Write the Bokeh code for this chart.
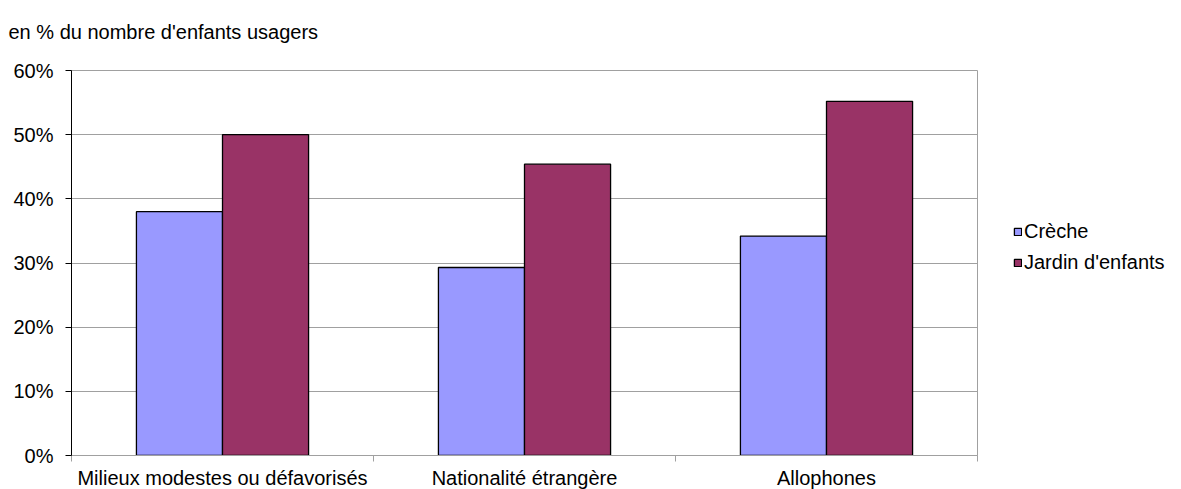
from bokeh.plotting import figure
from bokeh.models import (ColumnDataSource, FixedTicker, NumeralTickFormatter,
                          Legend, LegendItem, Range1d)
from bokeh.transform import dodge
from bokeh.embed import file_html
from bokeh.resources import INLINE

categories = ["Milieux modestes ou défavorisés", "Nationalité étrangère", "Allophones"]
series_names = ["Crèche", "Jardin d'enfants"]
creche = [0.380, 0.293, 0.342]
jardin = [0.500, 0.454, 0.552]
y_ticks = [0.0, 0.1, 0.2, 0.3, 0.4, 0.5, 0.6]
title_text = "en % du nombre d'enfants usagers"

FONT = "Liberation Sans"
FS = "20px"
pos = [i + 0.5 for i in range(len(categories))]
bounds = list(range(len(categories) + 1))
src = ColumnDataSource(dict(x=pos, creche=creche, jardin=jardin))

p = figure(frame_width=906, frame_height=385,
           x_range=Range1d(0, len(categories)), y_range=Range1d(y_ticks[0], y_ticks[-1]),
           output_backend="svg", toolbar_location=None,
           min_border_left=71, min_border_right=10, min_border_top=70, min_border_bottom=34,
           background_fill_color="white", border_fill_color="white")

# two-line title box (second line empty) lifts the text without growing the top border
p.title.text = title_text + "\n "
p.title.align = "left"
p.title.offset = -63
p.title.standoff = 11
p.title.text_font = FONT
p.title.text_font_size = FS
p.title.text_font_style = "normal"
p.title.text_color = "black"

p.outline_line_color = "#A0A0A0"
p.outline_line_width = 1

bw = 0.285
r1 = p.vbar(x=dodge("x", -bw / 2), top="creche", width=bw, source=src,
            fill_color="#9999FF", line_color="black", line_width=1.3)
r2 = p.vbar(x=dodge("x", bw / 2), top="jardin", width=bw, source=src,
            fill_color="#993366", line_color="black", line_width=1.3)

# y axis
yax = p.yaxis[0]
yax.ticker = FixedTicker(ticks=y_ticks)
yax.formatter = NumeralTickFormatter(format="0%")
yax.axis_line_color = "black"
yax.major_tick_line_color = "black"
yax.major_tick_out = 6
yax.major_tick_in = 0
yax.minor_tick_line_color = None
yax.major_label_standoff = 12
yax.major_label_text_font = FONT
yax.major_label_text_font_size = FS
yax.major_label_text_color = "black"

# x axis
xax = p.xaxis[0]
xax.ticker = FixedTicker(ticks=pos, minor_ticks=bounds)
xax.major_label_overrides = {pos[i]: categories[i] for i in range(len(categories))}
xax.axis_line_color = "#A0A0A0"
xax.major_tick_line_color = None
xax.minor_tick_line_color = "#A0A0A0"
xax.minor_tick_out = 6
xax.minor_tick_in = 0
xax.major_label_standoff = 5
xax.major_label_text_font = FONT
xax.major_label_text_font_size = FS
xax.major_label_text_color = "black"

p.ygrid.grid_line_color = "#A0A0A0"
p.ygrid.grid_line_width = 1
p.xgrid.grid_line_color = None

legend = Legend(items=[LegendItem(label=series_names[0], renderers=[r1]),
                       LegendItem(label=series_names[1], renderers=[r2])],
                location=(36, 181), orientation="vertical",
                glyph_width=9, glyph_height=9, label_standoff=2, spacing=8,
                label_height=21, padding=0, margin=0, border_line_color=None,
                background_fill_alpha=0,
                label_text_font=FONT, label_text_font_size=FS, label_text_color="black")
p.add_layout(legend, "right")

open("out.html", "w").write(file_html(p, INLINE))
